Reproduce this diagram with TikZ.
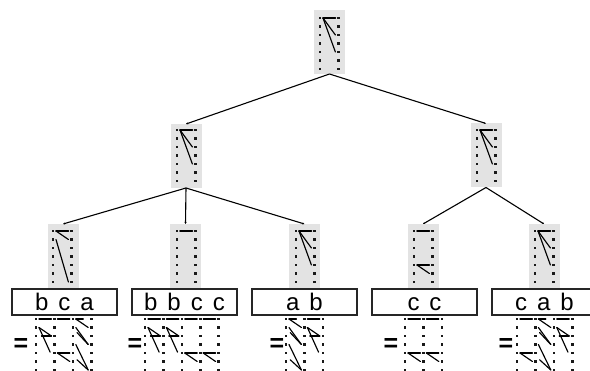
\documentclass[tikz,border=0pt]{standalone}
\usepackage{fontspec}
\setmainfont{Liberation Sans}
\newfontfamily\wordfont[WordSpace=1.5]{Liberation Sans}
\usetikzlibrary{arrows.meta}
\tikzset{
  x=1pt,y=-1pt,
  panel/.style={fill=black!11,draw=none,minimum width=31pt,minimum height=64pt,inner sep=0pt,outer sep=0pt},
  wordbox/.style={draw=black!85,line width=1.3pt,fill=white,minimum width=105pt,minimum height=26pt,inner sep=0pt,text height=17pt,text depth=0pt,font=\wordfont\fontsize{24}{24}\selectfont},
  eqsign/.style={inner sep=0pt,font=\bfseries\fontsize{25}{25}\selectfont},
  link/.style={draw=black,line width=1.1pt,-{Stealth[length=2pt,width=2pt]}},
  seg/.style={line width=1.15pt,line cap=round},
  topseg/.style={line width=1.7pt,line cap=round},
}
% dot columns: #1 x, #2 y of first row
\newcommand{\dotcol}[2]{\foreach \r in {0,...,6}{\fill[black!90] ({#1-1.3},{#2+8.5*\r-1.3}) rectangle ++(2.6,2.6);}}
% segment: base x, base y, column/row from, column/row to
\newcommand{\sg}[7][seg]{\draw[#1] ({#2+3+(#4)*12.4},{#3+8.5*(#5)}) -- ({#2+3+(#6)*12.4},{#3+8.5*(#7)});}
% tree-node glyphs
\newcommand{\gdots}[2]{\dotcol{#1}{#2}\dotcol{#1+18.4}{#2}}
\newcommand{\groot}[2]{\gdots{#1}{#2}\sg[topseg]{#1}{#2}{0}{0}{1}{0}\sg{#1}{#2}{0}{0}{1}{2}\sg{#1}{#2}{0}{0}{1}{4}}
% letter glyphs
\newcommand{\la}[2]{\sg{#1}{#2}{0}{0}{0.6}{0}\sg{#1}{#2}{0}{0}{1}{1}\sg{#1}{#2}{0}{1}{1}{3}\sg{#1}{#2}{0.1}{1.6}{1}{3}\sg{#1}{#2}{0}{3}{1}{6}\sg{#1}{#2}{0.1}{4.8}{1}{6}}
\newcommand{\lb}[2]{\sg{#1}{#2}{0}{0}{1}{0}\sg{#1}{#2}{0}{1}{1}{2}\sg{#1}{#2}{0}{1}{0.9}{3.9}\sg{#1}{#2}{0.2}{2}{1}{2}}
\newcommand{\lc}[2]{\sg{#1}{#2}{0}{0}{1}{0}\sg{#1}{#2}{0}{4}{1}{4}\sg{#1}{#2}{0}{4}{1}{5}}
\begin{document}
\begin{tikzpicture}
\useasboundingbox (0,0) rectangle (590,371);
\clip (0,0) rectangle (590,371);
% tree panels
\node[panel] (root) at (329.5,42) {};
\node[panel] (l) at (186,156) {};
\node[panel] (r) at (486,155.5) {};
\node[panel] (ll) at (63,256) {};
\node[panel] (lm) at (185.5,256) {};
\node[panel] (lr) at (304.5,256) {};
\node[panel] (rl) at (423,256) {};
\node[panel] (rr) at (544,256) {};
% glyphs
\groot{320}{18}
\groot{177}{130}
\groot{477}{130}
\gdots{53}{231}\sg[topseg]{53}{231}{0}{0}{1}{0}\sg{53}{231}{0}{0}{1}{1}\sg{53}{231}{0}{1}{1}{6}
\gdots{177}{231}\sg[topseg]{177}{231}{0}{0}{1}{0}
\groot{296}{231}
\gdots{414}{231}\sg[topseg]{414}{231}{0}{0}{1}{0}\sg{414}{231}{0}{4}{1}{4}\sg{414}{231}{0}{4}{1}{5}
\groot{535}{231}
% connectors
\draw[link] (root.south) -- (l.north);
\draw[link] (root.south) -- (r.north);
\draw[link] (l.south) -- (ll.north);
\draw[link] (l.south) -- (lm.north);
\draw[link] (l.south) -- (lr.north);
\draw[link] (r.south) -- (rl.north);
\draw[link] (r.south) -- (rr.north);
% words
\node[wordbox] (w1) at (64.5,302) {b c a};
\node[wordbox] (w2) at (184.5,302) {b b c c};
\node[wordbox] (w3) at (304.5,302) {a b};
\node[wordbox] (w4) at (424.5,302) {c c};
\node[wordbox] (w5) at (544.5,302) {c a b};
% equals
\node[eqsign] (e1) at (21,345) {=};
\node[eqsign] (e2) at (135,345) {=};
\node[eqsign] (e3) at (277,345) {=};
\node[eqsign] (e4) at (391,345) {=};
\node[eqsign] (e5) at (506,345) {=};
% bottom strings
\foreach \x in {36,54.4,72.8,91.2}{\dotcol{\x}{319}}
\lb{36}{319}\lc{54.4}{319}\la{72.8}{319}
\foreach \x in {145,163.4,181.8,200.2,218.6}{\dotcol{\x}{319}}
\lb{145}{319}\lb{163.4}{319}\lc{181.8}{319}\lc{200.2}{319}
\foreach \x in {286,304.4,322.8}{\dotcol{\x}{319}}
\la{286}{319}\lb{304.4}{319}
\foreach \x in {405,423.4,441.8}{\dotcol{\x}{319}}
\lc{405}{319}\lc{423.4}{319}
\foreach \x in {517,535.4,553.8,572.2}{\dotcol{\x}{319}}
\lc{517}{319}\la{535.4}{319}\lb{553.8}{319}
\end{tikzpicture}
\end{document}
